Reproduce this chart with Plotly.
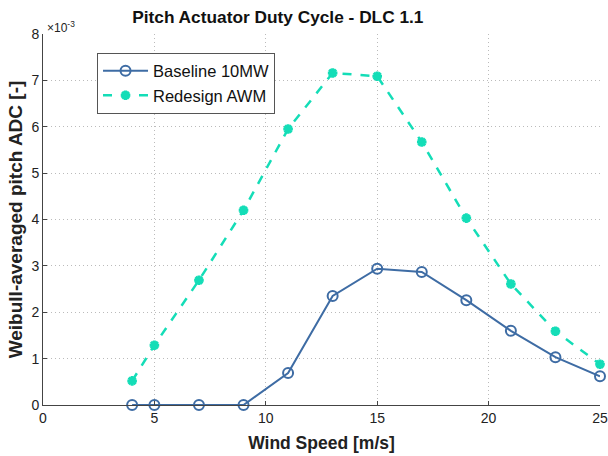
import plotly.graph_objects as go

wind_speed = [4, 5, 7, 9, 11, 13, 15, 17, 19, 21, 23, 25]
baseline_10mw = [0.0, 0.0, 0.0, 0.0, 0.69, 2.35, 2.94, 2.87, 2.26, 1.60, 1.03, 0.62]
redesign_awm = [0.52, 1.29, 2.69, 4.20, 5.95, 7.16, 7.09, 5.67, 4.03, 2.61, 1.59, 0.88]
x_ticks = [0, 5, 10, 15, 20, 25]
y_ticks = [0, 1, 2, 3, 4, 5, 6, 7, 8]

blue = "rgb(62,108,164)"
teal = "rgb(20,221,183)"
font_family = "Liberation Sans, Arial, sans-serif"

fig = go.Figure()
fig.add_trace(go.Scatter(
    x=wind_speed, y=baseline_10mw, name="Baseline 10MW",
    mode="lines+markers", cliponaxis=False,
    line=dict(color=blue, width=2),
    marker=dict(symbol="circle-open", size=10, color=blue, line=dict(width=2, color=blue)),
))
fig.add_trace(go.Scatter(
    x=wind_speed, y=redesign_awm, name="Redesign AWM",
    mode="lines+markers", cliponaxis=False,
    line=dict(color=teal, width=2.5, dash="dash"),
    marker=dict(symbol="asterisk-open", size=8, color=teal, line=dict(width=3, color=teal)),
))

axis_common = dict(
    showgrid=True, gridcolor="rgba(170,170,170,0.8)", griddash="1px,3px", gridwidth=1,
    showline=True, linecolor="#444", linewidth=1, mirror=False,
    ticks="inside", ticklen=4, tickcolor="#444",
    tickfont=dict(family=font_family, size=14, color="#222"),
    zeroline=False, automargin=False,
)

fig.update_layout(
    width=608, height=456,
    paper_bgcolor="white", plot_bgcolor="white",
    margin=dict(l=43, r=8, t=34, b=51, autoexpand=False),
    title=dict(text="<b>Pitch Actuator Duty Cycle - DLC 1.1</b>",
               x=0.457, xanchor="center", y=0.962, yanchor="middle", automargin=False,
               font=dict(family=font_family, size=17.3, color="#111")),
    xaxis=dict(range=[0, 25], tickvals=x_ticks,
               title=dict(text="<b>Wind Speed [m/s]</b>", standoff=11,
                          font=dict(family=font_family, size=17.5, color="#222")),
               **axis_common),
    yaxis=dict(range=[0, 8], tickvals=y_ticks,
               title=dict(text="<b>Weibull-averaged pitch ADC [-]</b>", standoff=3,
                          font=dict(family=font_family, size=19, color="#222")),
               **axis_common),
    legend=dict(x=0.097, y=0.95, xanchor="left", yanchor="top",
                bgcolor="white", bordercolor="#555", borderwidth=1,
                font=dict(family=font_family, size=16.5, color="#111"),
                tracegroupgap=0, itemwidth=45),
    showlegend=True,
)
fig.add_annotation(xref="paper", yref="paper", x=0.0, y=1.0, xanchor="left", yanchor="bottom",
                   text="×10<sup>-3</sup>", showarrow=False, xshift=2, yshift=-3,
                   font=dict(family=font_family, size=12, color="#222"))

fig.write_html("out.html", config={"displayModeBar": False},
               post_script="document.body.style.margin='0';")
